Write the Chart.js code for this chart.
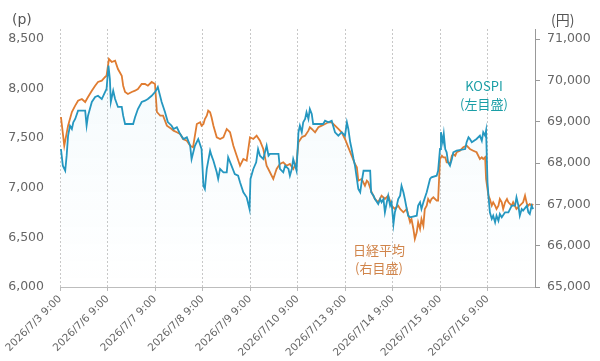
<!DOCTYPE html>
<html lang="ja">
<head>
<meta charset="utf-8">
<script src="https://cdn.jsdelivr.net/npm/chart.js@4.4.1/dist/chart.umd.min.js"></script>
<style>
  html, body { margin: 0; padding: 0; background: #fff; }
  canvas { display: block; }
</style>
</head>
<body>
<canvas id="chart" width="600" height="361"></canvas>
<script>
// x axis: one label per trading day (9:00 open)
const DAY_LABELS = ['2026/7/3 9:00', '2026/7/6 9:00', '2026/7/7 9:00', '2026/7/8 9:00', '2026/7/9 9:00',
                    '2026/7/10 9:00', '2026/7/13 9:00', '2026/7/14 9:00', '2026/7/15 9:00', '2026/7/16 9:00'];

// y axis ticks
const LEFT_TICKS  = [6000, 6500, 7000, 7500, 8000, 8500];
const RIGHT_TICKS = [65000, 66000, 67000, 68000, 69000, 70000, 71000];

// KOSPI (left axis, points) — time is in trading days from the first label
const KOSPI_T = [
  0.02,0.06,0.11,0.14,0.17,0.21,0.25,0.28,0.32,0.38,
  0.53,0.56,0.59,0.67,0.74,0.80,0.88,0.95,0.98,1.02,
  1.05,1.07,1.12,1.16,1.22,1.30,1.33,1.37,1.54,1.58,
  1.64,1.72,1.79,1.85,1.93,2.00,2.04,2.06,2.14,2.21,
  2.27,2.35,2.39,2.46,2.53,2.60,2.67,2.74,2.77,2.84,
  2.91,2.98,3.02,3.05,3.09,3.16,3.19,3.23,3.30,3.33,
  3.37,3.44,3.51,3.54,3.61,3.68,3.75,3.79,3.86,3.93,
  3.99,4.01,4.07,4.13,4.17,4.21,4.28,4.35,4.39,4.42,
  4.60,4.63,4.70,4.74,4.81,4.84,4.88,4.91,4.98,5.02,
  5.05,5.09,5.12,5.16,5.19,5.23,5.26,5.30,5.33,5.54,
  5.58,5.65,5.72,5.75,5.79,5.86,5.93,6.00,6.04,6.07,
  6.11,6.14,6.18,6.21,6.25,6.28,6.32,6.35,6.39,6.53,
  6.55,6.60,6.63,6.70,6.74,6.77,6.81,6.84,6.88,6.91,
  6.95,6.98,7.02,7.05,7.09,7.12,7.16,7.19,7.23,7.26,
  7.30,7.33,7.37,7.51,7.54,7.58,7.61,7.65,7.72,7.79,
  7.82,7.93,7.96,8.00,8.02,8.06,8.08,8.11,8.14,8.17,
  8.21,8.25,8.28,8.35,8.53,8.56,8.60,8.63,8.67,8.77,
  8.84,8.88,8.91,8.95,8.97,9.00,9.02,9.05,9.09,9.12,
  9.16,9.19,9.23,9.26,9.30,9.37,9.44,9.51,9.58,9.61,
  9.65,9.68,9.72,9.75,9.83,9.86,9.89,9.93,9.96
];
const KOSPI_V = [
  7391,7223,7172,7324,7525,7626,7593,7660,7694,7777,
  7777,7626,7727,7865,7915,7928,7895,7966,7996,8231,
  8097,7865,7979,7895,7815,7815,7727,7643,7643,7711,
  7794,7865,7878,7895,7928,7966,7996,8016,7865,7764,
  7663,7626,7593,7610,7542,7492,7509,7424,7290,7424,
  7492,7391,7021,6988,7190,7374,7324,7273,7156,7089,
  7190,7156,7156,7308,7223,7139,7122,7056,6955,6904,
  6786,7089,7190,7257,7391,7324,7290,7424,7324,7341,
  7341,7190,7156,7223,7190,7122,7190,7290,7172,7560,
  7626,7560,7660,7694,7761,7694,7794,7744,7643,7643,
  7676,7660,7676,7626,7560,7525,7560,7525,7660,7593,
  7459,7391,7290,7223,7089,6988,6955,7056,7172,7172,
  6955,6920,6887,6837,6887,6854,6887,6753,6854,6920,
  6820,6854,6635,6753,6820,6887,6920,7021,6955,6887,
  6786,6719,6703,6719,6820,6854,6786,6854,6955,7089,
  7106,7122,7172,7391,7560,7459,7542,7391,7358,7257,
  7223,7290,7358,7374,7391,7459,7509,7492,7459,7492,
  7525,7474,7560,7525,7576,7056,6920,6753,6686,6719,
  6652,6719,6668,6736,6703,6753,6753,6820,6820,6904,
  6820,6719,6786,6770,6820,6753,6736,6820,6786
];

// Nikkei 225 (right axis, yen)
const NIKKEI_T = [
  0.02,0.09,0.17,0.25,0.32,0.38,0.46,0.53,0.59,0.67,
  0.74,0.80,0.88,0.95,0.98,1.03,1.09,1.16,1.22,1.30,
  1.33,1.37,1.43,1.51,1.58,1.64,1.72,1.79,1.85,1.93,
  2.00,2.04,2.11,2.17,2.25,2.35,2.39,2.46,2.53,2.59,
  2.67,2.74,2.80,2.88,2.95,2.98,3.02,3.05,3.09,3.12,
  3.16,3.19,3.23,3.30,3.37,3.44,3.51,3.58,3.65,3.72,
  3.79,3.86,3.93,4.00,4.07,4.14,4.21,4.28,4.35,4.42,
  4.49,4.56,4.63,4.70,4.77,4.84,4.91,4.98,5.02,5.09,
  5.16,5.23,5.26,5.30,5.37,5.44,5.51,5.58,5.65,5.72,
  5.79,5.86,5.93,6.00,6.07,6.14,6.21,6.25,6.28,6.35,
  6.42,6.46,6.49,6.56,6.63,6.70,6.77,6.84,6.91,6.98,
  7.05,7.12,7.16,7.23,7.30,7.37,7.40,7.44,7.47,7.51,
  7.54,7.58,7.61,7.65,7.68,7.72,7.75,7.79,7.82,7.86,
  7.93,7.96,8.00,8.04,8.07,8.11,8.14,8.17,8.21,8.25,
  8.28,8.32,8.35,8.42,8.49,8.56,8.63,8.70,8.77,8.84,
  8.88,8.91,8.95,8.97,9.00,9.02,9.05,9.09,9.12,9.16,
  9.19,9.23,9.26,9.30,9.33,9.37,9.41,9.44,9.51,9.54,
  9.61,9.68,9.75,9.79,9.83,9.86,9.89,9.93,9.96
];
const NIKKEI_V = [
  69113,68419,68903,69234,69387,69507,69549,69476,69597,69749,
  69870,69960,69991,70081,70112,70516,70444,70475,70274,70112,
  69870,69718,69670,69718,69749,69790,69911,69911,69870,69960,
  69911,69234,69145,69145,68903,68823,68782,68743,68702,68581,
  68540,68419,68380,68944,68985,68903,68944,69065,69145,69266,
  69227,69106,68903,68622,68581,68622,68823,68743,68419,68177,
  67935,68097,68056,68622,68581,68661,68540,68339,67935,67776,
  67613,67855,67976,68017,67935,67976,67855,68017,68501,68622,
  68661,68782,68864,68823,68743,68864,68903,68944,68985,68985,
  68903,68823,68743,68581,68380,68177,67976,67896,67572,67613,
  67451,67572,67534,67292,67130,67050,67209,67130,67209,66968,
  66888,66968,66888,66808,66888,66566,66646,66404,66162,66324,
  66566,66404,66646,66484,66888,66968,67130,67050,67130,67171,
  67088,67088,68097,68177,68138,68138,68017,68017,67976,68177,
  68218,68177,68259,68298,68380,68419,68339,68298,68259,68097,
  68138,68097,68138,67613,67371,67209,67130,66968,67050,66968,
  66888,66968,67130,67050,66888,67050,67130,67050,66968,67050,
  66888,66968,67050,67209,67009,66968,67009,66968,67009
];

const TEAL   = '#2597c0';
const ORANGE = '#e07c31';
const GRAY   = '#666';

const toPoints = (ts, vs) => ts.map((t, i) => ({ x: t, y: vs[i] }));
const fmt = v => v.toLocaleString('en-US');
const asTicks = arr => arr.map(v => ({ value: v }));

// plot top sits a little above the top tick, like the original
const HEADROOM = 10 / 248;
const topOf = arr => arr[arr.length - 1] + (arr[arr.length - 1] - arr[0]) * HEADROOM;

// Unit labels and the two series captions
const captions = {
  id: 'captions',
  afterDatasetsDraw(chart) {
    const c = chart.ctx;
    c.save();
    c.textBaseline = 'middle';
    c.textAlign = 'left';
    c.fillStyle = '#555';
    c.font = '14px "DejaVu Sans"';
    c.fillText('(p)', 12, 20);
    c.font = '14px "Noto Sans CJK JP"';
    c.fillText('(円)', 551, 20);

    c.textAlign = 'center';
    c.font = '13px "Noto Sans CJK JP"';
    c.fillStyle = '#1a9ea6';
    c.fillText('KOSPI', 484, 86);
    c.fillText('(左目盛)', 484, 104);
    c.fillStyle = '#d0844a';
    c.fillText('日経平均', 379, 250);
    c.fillText('(右目盛)', 379, 268);
    c.restore();
  }
};

new Chart(document.getElementById('chart'), {
  type: 'line',
  data: {
    datasets: [
      {
        label: 'KOSPI',
        data: toPoints(KOSPI_T, KOSPI_V),
        yAxisID: 'yL',
        borderColor: TEAL,
        borderWidth: 1.8,
        pointRadius: 0,
        tension: 0,
        fill: 'start',
        backgroundColor: (ctx) => {
          const area = ctx.chart.chartArea;
          if (!area) return 'transparent';
          const g = ctx.chart.ctx.createLinearGradient(0, area.top, 0, area.bottom);
          g.addColorStop(0, 'rgba(60,170,210,0.06)');
          g.addColorStop(1, 'rgba(60,170,210,0)');
          return g;
        },
      },
      {
        label: '日経平均',
        data: toPoints(NIKKEI_T, NIKKEI_V),
        yAxisID: 'yR',
        borderColor: ORANGE,
        borderWidth: 1.8,
        pointRadius: 0,
        tension: 0,
        fill: false,
      },
    ],
  },
  options: {
    responsive: false,
    animation: false,
    devicePixelRatio: 1,
    layout: { padding: { top: 29, left: 0, right: 0, bottom: 0 } },
    plugins: {
      legend: { display: false },
      tooltip: { enabled: false },
    },
    scales: {
      x: {
        type: 'linear',
        min: 0,
        max: DAY_LABELS.length,
        afterFit: s => { s.height = 74; },
        grid: {
          color: c => c.tick && c.tick.value === DAY_LABELS.length ? 'rgba(0,0,0,0)' : '#c8c8c8',
          tickColor: c => c.tick && c.tick.value === DAY_LABELS.length ? 'rgba(0,0,0,0)' : '#bbb',
          lineWidth: 1,
          tickLength: 4,
        },
        border: { display: true, color: '#bdbdbd', width: 1, dash: [2, 2] },
        ticks: {
          stepSize: 1,
          autoSkip: false,
          maxRotation: 45,
          minRotation: 45,
          padding: 2,
          color: GRAY,
          font: { family: 'DejaVu Sans', size: 10.5 },
          callback: v => DAY_LABELS[v] || '',
        },
      },
      yL: {
        position: 'left',
        min: LEFT_TICKS[0],
        max: topOf(LEFT_TICKS),
        afterFit: s => { s.width = 60; },
        afterBuildTicks: s => { s.ticks = asTicks(LEFT_TICKS); },
        grid: { display: false, drawTicks: false },
        border: { display: false },
        ticks: {
          padding: 16,
          color: GRAY,
          font: { family: 'DejaVu Sans', size: 12.5 },
          callback: v => fmt(v),
        },
      },
      yR: {
        position: 'right',
        min: RIGHT_TICKS[0],
        max: topOf(RIGHT_TICKS),
        afterFit: s => { s.width = 65; },
        afterBuildTicks: s => { s.ticks = asTicks(RIGHT_TICKS); },
        grid: { drawOnChartArea: false, drawTicks: true, tickLength: 5, tickColor: '#999' },
        border: { display: true, color: '#999', width: 1 },
        ticks: {
          padding: 7,
          color: GRAY,
          font: { family: 'DejaVu Sans', size: 12.5 },
          callback: v => fmt(v),
        },
      },
    },
  },
  plugins: [captions],
});
</script>
</body>
</html>
